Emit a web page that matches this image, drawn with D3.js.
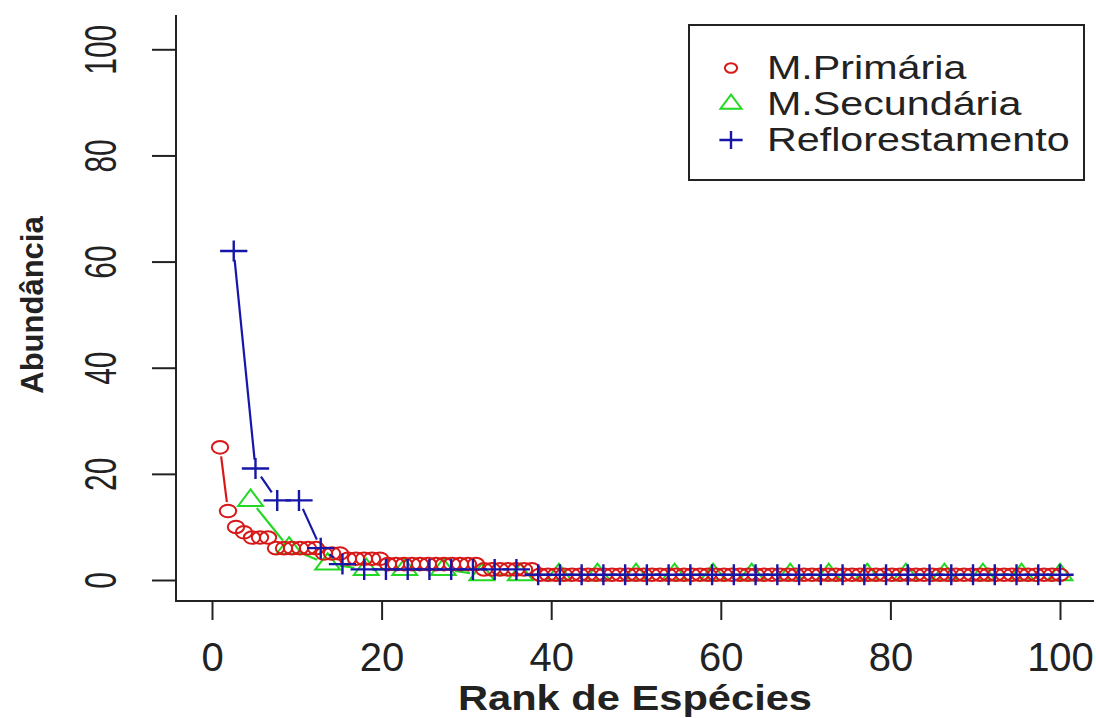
<!DOCTYPE html>
<html><head><meta charset="utf-8">
<script src="https://cdn.jsdelivr.net/npm/d3@7"></script>
<style>
html,body{margin:0;padding:0;background:#fff;}
svg text{font-family:"Liberation Sans",Arial,sans-serif;fill:#222;}
</style></head>
<body>
<svg id="chart" width="1096" height="718"></svg>
<script>
// ---- data (abundance by rank) ----
const seriesNames = ["M.Primária", "M.Secundária", "Reflorestamento"];
const primaria = [25,13,10,9,8,8,8,6,6,6,6,6,6,5,5,5,4,4,4,4,4,3,3,3,3,3,3,3,3,3,3,3,3,2,2,2,2,2,2,2,
  1,1,1,1,1,1,1,1,1,1,1,1,1,1,1,1,1,1,1,1,1,1,1,1,1,1,1,1,1,1,1,1,1,1,1,1,1,1,1,1,
  1,1,1,1,1,1,1,1,1,1,1,1,1,1,1,1,1,1,1,1,1,1,1,1,1,1];
const secundaria = [15,6,3,2,2,2,1,1,1,1,1,1,1,1,1,1,1,1,1,1,1,1];
const reflorestamento = [62,21,15,15,6,3,2,2,2,2,2,2,2,2,1,1,1,1,1,1,1,1,1,1,1,1,1,1,1,1,1,1,1,1,1,1,1,1,1];
const xTicks = [0,20,40,60,80,100];
const yTicks = [0,20,40,60,80,100];
const xTitle = "Rank de Espécies";
const yTitle = "Abundância";

const SX = 1.3; // horizontal stretch of the reference markers
const svg = d3.select("#chart");
const x = d3.scaleLinear().domain([0,100]).range([212,1060]);
const y = d3.scaleLinear().domain([0,100]).range([580,49.3]);
const plotL = 176, plotR = 1094, plotT = 15, plotB = 601;

// scaled rank (0-100%)
function toPoints(vals){ const n = vals.length; return vals.map((v,i)=>({r:(i+1)*100/n, v})); }

const series = [
  {name:seriesNames[1], data:toPoints(secundaria), color:"#22d822", shape:"tri"},
  {name:seriesNames[0], data:toPoints(primaria), color:"#d81818", shape:"circ"},
  {name:seriesNames[2], data:toPoints(reflorestamento), color:"#1616a8", shape:"plus"}
];

function drawMarker(g, shape, cx, cy, color, s){
  const m = g.append("g").attr("transform",`translate(${cx},${cy}) scale(${SX},1)`);
  if(shape==="circ"){
    m.append("circle").attr("r",6.3*s).attr("fill","none").attr("stroke",color).attr("stroke-width",2).attr("vector-effect","non-scaling-stroke");
  } else if(shape==="tri"){
    const r = 11*s;
    const pts = [[0,-r],[r*0.866,r*0.5],[-r*0.866,r*0.5]];
    m.append("polygon").attr("points",pts.map(p=>p.join(",")).join(" ")).attr("fill","none").attr("stroke",color).attr("stroke-width",2).attr("vector-effect","non-scaling-stroke");
  } else {
    const a = 10.5*s;
    m.append("path").attr("d",`M${-a},0H${a}M0,${-a}V${a}`).attr("stroke",color).attr("stroke-width",2.4).attr("vector-effect","non-scaling-stroke");
  }
}

// axes (L-shaped frame)
svg.append("path").attr("d",`M${plotL},${plotT}V${plotB}H${plotR}`).attr("fill","none").attr("stroke","#222").attr("stroke-width",2);

const xAxis = d3.axisBottom(x).tickValues(xTicks).tickSize(19).tickPadding(23).tickFormat(d3.format("d"));
const gx = svg.append("g").attr("transform",`translate(0,${plotB})`).call(xAxis);
gx.select(".domain").remove();
gx.selectAll(".tick line").attr("stroke","#222").attr("stroke-width",2);
gx.selectAll(".tick text").attr("font-size",40).attr("fill","#222").attr("font-family",null);

const yAxis = d3.axisLeft(y).tickValues(yTicks).tickSize(24).tickFormat(d3.format("d"));
const gy = svg.append("g").attr("transform",`translate(${plotL},0)`).call(yAxis);
gy.select(".domain").remove();
gy.selectAll(".tick line").attr("stroke","#222").attr("stroke-width",2);
gy.selectAll(".tick text").attr("font-size",44).attr("fill","#222").attr("font-family",null)
  .attr("text-anchor","middle").attr("x",0).attr("dy",null)
  .attr("transform","translate(-75,0) rotate(-90) scale(0.68,1)").attr("dominant-baseline","central");

// titles
svg.append("text").attr("transform",`translate(${(plotL+plotR)/2},710) scale(1.19,1)`).attr("text-anchor","middle")
  .attr("font-size",35).attr("font-weight","bold").text(xTitle);
svg.append("text").attr("transform",`translate(43,305) rotate(-90)`).attr("text-anchor","middle")
  .attr("font-size",31).attr("font-weight","bold").text(yTitle);

// series: type "b" (lines with gaps around points)
const gapA = 12, gapB = 9;
series.forEach(s=>{
  const g = svg.append("g");
  const P = s.data.map(d=>[x(d.r), y(d.v)]);
  for(let i=0;i<P.length-1;i++){
    const [x0,y0]=P[i],[x1,y1]=P[i+1];
    const dx=x1-x0, dy=y1-y0, L=Math.hypot(dx,dy);
    const c=dx/L, sn=dy/L;
    const gap = 1/Math.sqrt((c/gapA)**2+(sn/gapB)**2);
    if(L>2*gap){
      g.append("line").attr("x1",x0+c*gap).attr("y1",y0+sn*gap).attr("x2",x1-c*gap).attr("y2",y1-sn*gap)
        .attr("stroke",s.color).attr("stroke-width",2.2);
    }
  }
  P.forEach(p=>drawMarker(g,s.shape,p[0],p[1],s.color,1));
});

// legend
const lg = svg.append("g");
lg.append("rect").attr("x",689).attr("y",25).attr("width",395).attr("height",155).attr("fill","#fff").attr("stroke","#222").attr("stroke-width",2);
const legendItems = [series[1], series[0], series[2]];
legendItems.forEach((s,i)=>{
  const cy = 68 + i*36;
  drawMarker(lg, s.shape, 731, cy, s.color, s.shape==="circ"?0.75:0.85);
  lg.append("text").attr("transform",`translate(767,${cy}) scale(1.25,1)`).attr("dominant-baseline","central").attr("font-size",33).text(s.name);
});
</script>
</body></html>
